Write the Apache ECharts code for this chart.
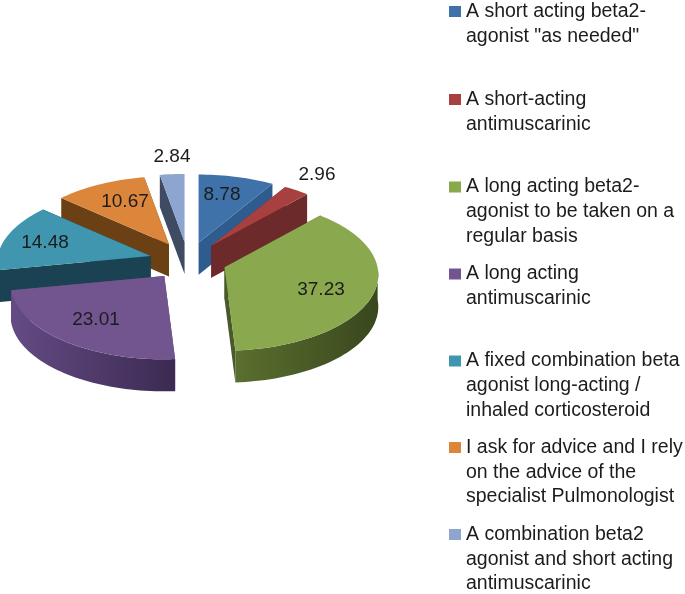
<!DOCTYPE html>
<html>
<head>
<meta charset="utf-8">
<style>html,body{margin:0;padding:0;background:#fff}#c{width:685px;height:594px}</style>
<script src="https://cdn.jsdelivr.net/npm/echarts@6/dist/echarts.min.js"></script>
</head>
<body>
<div id="c"></div>
<script>
const categories = [
  'A short acting beta2-\nagonist "as needed"',
  'A short-acting\nantimuscarinic',
  'A long acting beta2-\nagonist to be taken on a\nregular basis',
  'A long acting\nantimuscarinic',
  'A fixed combination beta\nagonist long-acting /\ninhaled corticosteroid',
  'I ask for advice and I rely\non the advice of the\nspecialist Pulmonologist',
  'A combination beta2\nagonist and short acting\nantimuscarinic'
];
const values = [8.78, 2.96, 37.23, 23.01, 14.48, 10.67, 2.84];
const topColors = ['#3f72a8', '#a8403f', '#8aa84e', '#72548f', '#3f96ae', '#dc863c', '#8ea5cf'];
const sideColors = ['#2f5c8e', '#6c2a2a', '#48592a', '#5a4378', '#1a4252', '#6c4015', '#3f4a63'];
const rimLeft = ['#2f5c8e', '#6c2a2a', '#5a6f2f', '#644b84', '#1f4c5e', '#6c4015', '#3f4a63'];
const rimRight = ['#2f5c8e', '#6c2a2a', '#39471d', '#3c2a52', '#1a4252', '#6c4015', '#3f4a63'];
const paintOrder = [6, 5, 0, 1, 4, 2, 3];
const labelAnchors = [[222, 195], [317, 175], [321, 290], [96, 320], [45, 243], [125, 202], [172, 157]];
const legendFirstLine = [11.5, 99.5, 187, 274, 361, 447.5, 534.5];

const FONT = '"Liberation Sans", Arial, sans-serif';
const TEXT = '#1c1c1c';
const CX = 188, CY = 261;      // pie centre
const RX = 153, RY = 75;       // ellipse radii
const EX = 38.7, EY = 19;      // explosion offset
const P = 0.1, DEPTH = 32;     // perspective, thickness
const LH = 24.7;

const total = values.reduce((a, b) => a + b, 0);
const starts = [];
values.reduce((acc, v, i) => { starts[i] = acc; return acc + v; }, 0);

function slicePaths(i) {
  const a0 = starts[i] / total * 2 * Math.PI;
  const a1 = (starts[i] + values[i]) / total * 2 * Math.PI;
  const mid = (a0 + a1) / 2;
  const ax = CX + EX * Math.sin(mid), ay = CY - EY * Math.cos(mid);
  const arc = [];
  const n = Math.max(6, Math.ceil((a1 - a0) / 0.03));
  for (let k = 0; k <= n; k++) {
    const t = a0 + (a1 - a0) * k / n;
    const u = Math.sin(t), v = Math.cos(t), s = 1 / (1 + P * v);
    arc.push({ x: ax + RX * s * u, y: ay - RY * s * v, v });
  }
  return { apex: [ax, ay], arc };
}

function renderSlice(idx) {
  return function () {
    const p = slicePaths(idx);
    const ap = p.apex, arc = p.arc;
    const first = arc[0], last = arc[arc.length - 1];
    const kids = [];
    const quad = (a, b) => [[a[0], a[1]], [b[0], b[1]], [b[0], b[1] + DEPTH], [a[0], a[1] + DEPTH]];
    kids.push({ type: 'polygon', z2: 1, shape: { points: quad(ap, [first.x, first.y]) }, style: { fill: sideColors[idx] } });
    kids.push({ type: 'polygon', z2: 1, shape: { points: quad(ap, [last.x, last.y]) }, style: { fill: sideColors[idx] } });
    const front = arc.filter(q => q.v <= 0.02);
    if (front.length > 1) {
      const pts = front.map(q => [q.x, q.y]).concat(front.slice().reverse().map(q => [q.x, q.y + DEPTH]));
      const xs = front.map(q => q.x);
      const x0 = Math.min.apply(null, xs), x1 = Math.max.apply(null, xs);
      kids.push({
        type: 'polygon', z2: 2, shape: { points: pts },
        style: { fill: new echarts.graphic.LinearGradient(x0, 0, x1, 0, [
          { offset: 0, color: rimLeft[idx] }, { offset: 1, color: rimRight[idx] }
        ], true) }
      });
    }
    kids.push({
      type: 'polygon', z2: 3,
      shape: { points: [ap].concat(arc.map(q => [q.x, q.y])) },
      style: { fill: topColors[idx] }
    });
    kids.push({
      type: 'text', z2: 4, x: labelAnchors[idx][0], y: labelAnchors[idx][1],
      style: { text: values[idx].toFixed(2), fill: TEXT, font: '19px ' + FONT, align: 'center', verticalAlign: 'middle' }
    });
    return { type: 'group', children: kids };
  };
}

const series = categories.map((name, i) => ({
  type: 'custom',
  name,
  coordinateSystem: 'none',
  silent: true,
  animation: false,
  z: 2 + paintOrder.indexOf(i),
  itemStyle: { color: topColors[i] },
  data: [[values[i]]],
  renderItem: renderSlice(i)
}));

const legends = categories.map((name, i) => {
  const lines = name.split('\n').length;
  return {
    data: [name],
    left: 449,
    top: legendFirstLine[i] - (lines - 0.5) * LH,
    padding: 0,
    itemWidth: 12,
    itemHeight: 11,
    itemGap: 0,
    icon: 'rect',
    selectedMode: false,
    orient: 'vertical',
    // blank lines above keep the marker level with the first text line
    formatter: n => '\n'.repeat(lines - 1) + n,
    textStyle: { fontFamily: FONT, fontSize: 19.5, color: TEXT, lineHeight: LH }
  };
});

const chart = echarts.init(document.getElementById('c'), null, { renderer: 'canvas' });
chart.setOption({ animation: false, backgroundColor: '#fff', legend: legends, series });
</script>
</body>
</html>
